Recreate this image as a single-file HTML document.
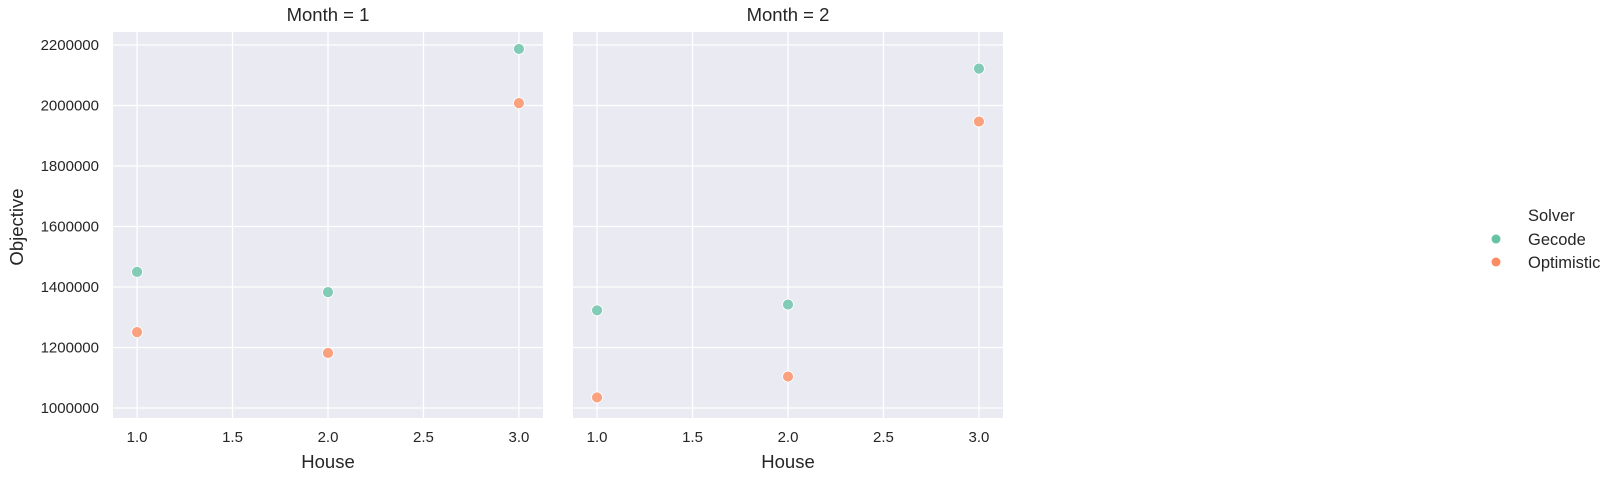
<!DOCTYPE html>
<html><head><meta charset="utf-8"><style>
body{margin:0;background:#fff;}
svg{display:block;font-family:"Liberation Sans",Arial,sans-serif;}
</style></head><body>
<svg id="chart" width="1616" height="479" xmlns="http://www.w3.org/2000/svg"></svg>
<script>
const houses = [1, 2, 3];
const month1Gecode = [1450000, 1383000, 2187000];
const month1Optimistic = [1251000, 1182000, 2008000];
const month2Gecode = [1323000, 1342000, 2122000];
const month2Optimistic = [1035000, 1104000, 1947000];
const xTicks = [1.0, 1.5, 2.0, 2.5, 3.0];
const yTicks = [1000000, 1200000, 1400000, 1600000, 1800000, 2000000, 2200000];
const panelTitles = ["Month = 1", "Month = 2"];

const NS = "http://www.w3.org/2000/svg";
const svg = document.getElementById('chart');
function mk(tag, attrs, parent) {
  const e = document.createElementNS(NS, tag);
  for (const k in attrs) e.setAttribute(k, attrs[k]);
  (parent || svg).appendChild(e);
  return e;
}
const top_ = 32, bottom = 418, pw = 430;
const panelLefts = [113, 573];
const xMin = 0.874, xMax = 3.126, yMin = 967000, yMax = 2243000;
function xs(v, left) { return left + (v - xMin) / (xMax - xMin) * pw; }
function ys(v) { return bottom - (v - yMin) / (yMax - yMin) * (bottom - top_); }

const panels = [[month1Gecode, month1Optimistic], [month2Gecode, month2Optimistic]];
panels.forEach((series, pi) => {
  const left = panelLefts[pi];
  const g = mk('g', {});
  
  
  const bg = mk('rect', {x: left, y: top_, width: pw, height: bottom - top_, fill: '#eaeaf2'}, g);
  
  
  xTicks.forEach(t => {
    const x = xs(t, left);
    const l = mk('line', {x1: x, x2: x, y1: top_, y2: bottom, stroke: '#fff', 'stroke-width': 1.3}, g);
    
    
    const tx = mk('text', {x: x, y: 442, 'text-anchor': 'middle', 'font-size': 15, fill: '#262626'}, g);
    tx.textContent = t.toFixed(1);
    
    
  });
  yTicks.forEach(t => {
    const y = ys(t);
    const l = mk('line', {x1: left, x2: left + pw, y1: y, y2: y, stroke: '#fff', 'stroke-width': 1.3}, g);
    
    
    if (pi === 0) {
      const tx = mk('text', {x: 99, y: y + 5, 'text-anchor': 'end', 'font-size': 15, fill: '#262626'}, g);
      tx.textContent = String(t);
      
      
    }
  });
  const title = mk('text', {x: left + pw / 2, y: 21, 'text-anchor': 'middle', 'font-size': 18.5, fill: '#262626'}, g);
  title.textContent = panelTitles[pi];
  
  
  const xl = mk('text', {x: left + pw / 2, y: 468, 'text-anchor': 'middle', 'font-size': 18.5, fill: '#262626'}, g);
  xl.textContent = 'House';
  
  
  const colors = ['#66c2a5', '#fc8d62'];
  series.forEach((vals, si) => {
    vals.forEach((v, i) => {
      const c = mk('circle', {cx: xs(houses[i], left), cy: ys(v), r: 5.5, fill: colors[si], 'fill-opacity': 0.8, stroke: '#fff', 'stroke-width': 0.8}, g);
      
      
    });
  });
});
const yl = mk('text', {x: 0, y: 0, transform: 'translate(23,227) rotate(-90)', 'text-anchor': 'middle', 'font-size': 18.5, fill: '#262626'});
yl.textContent = 'Objective';



const lg = mk('g', {});


const lt = mk('text', {x: 1528, y: 221, 'font-size': 16.5, fill: '#262626'}, lg);
lt.textContent = 'Solver';


[['Gecode', '#66c2a5', 239], ['Optimistic', '#fc8d62', 262]].forEach(([n, c, y]) => {
  const m = mk('circle', {cx: 1496, cy: y, r: 4.5, fill: c}, lg);
  
  
  const t = mk('text', {x: 1528, y: y + 6, 'font-size': 16.5, fill: '#262626'}, lg);
  t.textContent = n;
  
  
});
</script>
</body></html>
